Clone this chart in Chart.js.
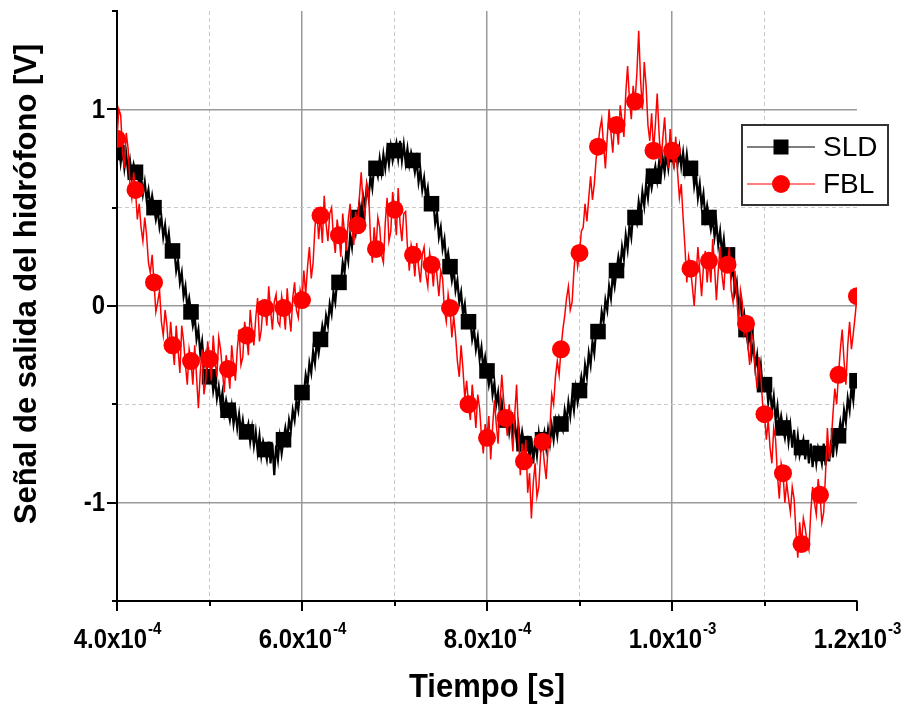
<!DOCTYPE html>
<html>
<head>
<meta charset="utf-8">
<title>Señal de salida del hidrófono</title>
<script src="https://cdn.jsdelivr.net/npm/chart.js@4.4.1/dist/chart.umd.min.js"></script>
<style>
  html, body { margin: 0; padding: 0; background: #fff; }
  #wrap { width: 911px; height: 708px; }
</style>
</head>
<body>
<div id="wrap"><canvas id="grafica" width="911" height="708"></canvas></div>
<script>
// muestreo de la señal: 2 us entre muestras, un símbolo cada 10 muestras (20 us)
const tInicio = 4.0e-4;
const tPaso = 2.0e-6;
const cadaSimbolo = 10;

// SLD [V], una fila por cada intervalo de 20 us
const senalSLD = [
  0.78, 0.83, 0.73, 0.80, 0.70, 0.77, 0.68, 0.74, 0.66, 0.72,
  0.68, 0.70, 0.61, 0.66, 0.57, 0.63, 0.54, 0.59, 0.50, 0.56,
  0.50, 0.44, 0.49, 0.40, 0.45, 0.35, 0.41, 0.31, 0.37, 0.27,
  0.28, 0.29, 0.18, 0.23, 0.12, 0.17, 0.05, 0.10, -0.01, 0.04,
  -0.03, -0.10, -0.05, -0.17, -0.12, -0.24, -0.18, -0.30, -0.25, -0.37,
  -0.36, -0.33, -0.43, -0.37, -0.47, -0.41, -0.50, -0.44, -0.54, -0.48,
  -0.53, -0.58, -0.51, -0.60, -0.53, -0.62, -0.55, -0.64, -0.58, -0.66,
  -0.64, -0.60, -0.69, -0.62, -0.71, -0.64, -0.74, -0.66, -0.76, -0.69,
  -0.73, -0.78, -0.69, -0.80, -0.70, -0.86, -0.71, -0.78, -0.67, -0.75,
  -0.68, -0.62, -0.68, -0.58, -0.63, -0.53, -0.58, -0.48, -0.53, -0.43,
  -0.44, -0.45, -0.35, -0.40, -0.29, -0.34, -0.23, -0.29, -0.18, -0.24,
  -0.17, -0.10, -0.15, -0.05, -0.10, 0.01, -0.04, 0.07, 0.02, 0.13,
  0.12, 0.11, 0.22, 0.17, 0.29, 0.23, 0.36, 0.30, 0.42, 0.37,
  0.45, 0.52, 0.46, 0.56, 0.50, 0.61, 0.55, 0.66, 0.60, 0.71,
  0.70, 0.66, 0.75, 0.68, 0.77, 0.70, 0.79, 0.72, 0.81, 0.74,
  0.79, 0.83, 0.75, 0.84, 0.74, 0.82, 0.73, 0.80, 0.72, 0.78,
  0.74, 0.68, 0.74, 0.63, 0.69, 0.59, 0.65, 0.55, 0.60, 0.50,
  0.52, 0.53, 0.42, 0.47, 0.35, 0.40, 0.29, 0.34, 0.22, 0.27,
  0.20, 0.13, 0.19, 0.08, 0.13, 0.02, 0.07, -0.04, 0.01, -0.10,
  -0.08, -0.07, -0.17, -0.12, -0.22, -0.16, -0.27, -0.21, -0.32, -0.26,
  -0.33, -0.40, -0.34, -0.45, -0.39, -0.50, -0.44, -0.55, -0.49, -0.60,
  -0.58, -0.55, -0.64, -0.57, -0.66, -0.59, -0.68, -0.61, -0.71, -0.64,
  -0.70, -0.75, -0.66, -0.78, -0.67, -0.80, -0.68, -0.76, -0.65, -0.73,
  -0.68, -0.64, -0.72, -0.63, -0.70, -0.61, -0.68, -0.59, -0.66, -0.57,
  -0.60, -0.63, -0.53, -0.59, -0.49, -0.56, -0.46, -0.53, -0.42, -0.49,
  -0.43, -0.36, -0.42, -0.30, -0.36, -0.24, -0.30, -0.18, -0.24, -0.12,
  -0.13, -0.14, -0.03, -0.08, 0.03, -0.02, 0.10, 0.04, 0.16, 0.10,
  0.18, 0.25, 0.19, 0.30, 0.24, 0.36, 0.29, 0.41, 0.35, 0.47,
  0.45, 0.42, 0.53, 0.47, 0.58, 0.51, 0.62, 0.55, 0.66, 0.60,
  0.66, 0.71, 0.64, 0.73, 0.66, 0.75, 0.68, 0.77, 0.70, 0.79,
  0.77, 0.72, 0.81, 0.72, 0.80, 0.71, 0.78, 0.69, 0.77, 0.68,
  0.70, 0.72, 0.61, 0.67, 0.55, 0.62, 0.51, 0.57, 0.45, 0.51,
  0.45, 0.39, 0.45, 0.35, 0.42, 0.31, 0.38, 0.27, 0.34, 0.23,
  0.26, 0.27, 0.15, 0.19, 0.07, 0.12, -0.01, 0.04, -0.09, -0.04,
  -0.12, -0.19, -0.13, -0.25, -0.19, -0.31, -0.25, -0.37, -0.30, -0.42,
  -0.40, -0.38, -0.49, -0.42, -0.53, -0.46, -0.58, -0.51, -0.62, -0.56,
  -0.62, -0.67, -0.59, -0.69, -0.61, -0.72, -0.63, -0.74, -0.66, -0.76,
  -0.72, -0.68, -0.78, -0.69, -0.80, -0.70, -0.82, -0.71, -0.80, -0.72,
  -0.75, -0.80, -0.70, -0.81, -0.69, -0.79, -0.68, -0.77, -0.65, -0.73,
  -0.66, -0.59, -0.65, -0.53, -0.59, -0.47, -0.53, -0.41, -0.48, -0.36,
  -0.38
];

// FBL [V]
const senalFBL = [
  0.85, 1.00, 0.97, 0.78, 0.70, 0.88, 0.80, 0.62, 0.55, 0.68,
  0.59, 0.44, 0.52, 0.40, 0.33, 0.45, 0.36, 0.22, 0.17, 0.26,
  0.12, -0.03, 0.02, 0.08, -0.08, -0.15, -0.02, -0.10, -0.24, -0.08,
  -0.20, -0.30, -0.10, -0.22, -0.34, -0.10, -0.18, -0.30, -0.40, -0.22,
  -0.28, -0.40, -0.20, -0.36, -0.52, -0.34, -0.22, -0.45, -0.38, -0.18,
  -0.27, -0.38, -0.15, -0.28, -0.36, -0.16, -0.22, -0.33, -0.44, -0.25,
  -0.32, -0.42, -0.20, -0.30, -0.38, -0.22, -0.12, -0.30, -0.26, -0.08,
  -0.15, -0.25, -0.02, -0.12, -0.20, -0.06, 0.04, -0.18, -0.12, 0.02,
  -0.01, -0.10, 0.10, -0.02, -0.12, 0.02, 0.06, -0.08, -0.10, 0.05,
  -0.01, -0.12, 0.09, -0.04, -0.13, 0.04, 0.12, -0.02, -0.06, 0.08,
  0.03, 0.18, 0.06, 0.20, 0.30, 0.14, 0.22, 0.40, 0.50, 0.34,
  0.46, 0.32, 0.56, 0.42, 0.33, 0.47, 0.50, 0.35, 0.27, 0.44,
  0.36, 0.25, 0.47, 0.37, 0.28, 0.44, 0.52, 0.40, 0.31, 0.48,
  0.41, 0.55, 0.68, 0.52, 0.46, 0.62, 0.58, 0.35, 0.22, 0.40,
  0.29, 0.45, 0.40, 0.26, 0.22, 0.42, 0.55, 0.33, 0.38, 0.58,
  0.49, 0.36, 0.60, 0.42, 0.33, 0.47, 0.48, 0.30, 0.18, 0.31,
  0.26, 0.15, 0.32, 0.20, 0.12, 0.26, 0.30, 0.16, 0.10, 0.27,
  0.21, 0.10, 0.25, 0.15, 0.05, 0.18, 0.14, -0.02, -0.08, 0.06,
  -0.01, -0.16, -0.05, -0.15, -0.28, -0.36, -0.20, -0.32, -0.47, -0.38,
  -0.50, -0.58, -0.40, -0.50, -0.62, -0.45, -0.52, -0.66, -0.75, -0.60,
  -0.67, -0.56, -0.78, -0.62, -0.48, -0.60, -0.70, -0.50, -0.35, -0.48,
  -0.57, -0.66, -0.50, -0.62, -0.74, -0.55, -0.40, -0.64, -0.86, -0.70,
  -0.79, -0.68, -0.95, -0.85, -1.08, -0.90, -0.80, -0.97, -0.92, -0.75,
  -0.69, -0.80, -0.88, -0.72, -0.62, -0.45, -0.50, -0.36, -0.28, -0.35,
  -0.22, -0.12, -0.05, 0.04, 0.10, -0.02, 0.02, 0.18, 0.30, 0.20,
  0.27, 0.38, 0.40, 0.52, 0.43, 0.55, 0.66, 0.54, 0.62, 0.75,
  0.81, 0.90, 0.95, 0.82, 0.70, 0.86, 1.00, 0.88, 0.78, 0.94,
  0.92, 0.82, 1.02, 0.94, 0.86, 1.08, 1.22, 1.05, 0.95, 1.12,
  1.04, 1.18, 1.40, 1.15, 1.00, 1.24, 1.12, 0.92, 0.84, 0.98,
  0.79, 0.92, 1.08, 0.88, 0.72, 0.85, 0.96, 0.80, 0.70, 0.90,
  0.79, 0.70, 0.86, 0.68, 0.55, 0.62, 0.45, 0.30, 0.12, 0.25,
  0.19, 0.10, 0.00, 0.15, 0.30, 0.18, 0.05, 0.20, 0.28, 0.12,
  0.23, 0.12, 0.34, 0.20, 0.03, 0.18, 0.30, 0.16, 0.08, 0.24,
  0.21, 0.30, 0.08, 0.02, 0.18, 0.05, -0.10, 0.08, 0.02, -0.14,
  -0.09, -0.20, -0.30, -0.14, -0.18, -0.32, -0.42, -0.26, -0.36, -0.50,
  -0.55, -0.68, -0.58, -0.72, -0.80, -0.62, -0.68, -0.86, -0.98, -0.80,
  -0.85, -1.00, -0.90, -0.98, -1.05, -0.92, -0.98, -1.15, -1.28, -1.10,
  -1.21, -1.08, -1.13, -1.20, -1.24, -1.05, -0.92, -1.00, -1.06, -0.88,
  -0.96, -1.10, -1.05, -0.85, -0.62, -0.78, -0.70, -0.55, -0.42, -0.50,
  -0.35, -0.22, -0.12, -0.28, -0.40, -0.20, -0.08, -0.22, -0.14, -0.05,
  0.05
];

// ejes
const ticksX = [4e-4, 5e-4, 6e-4, 7e-4, 8e-4, 9e-4, 1.0e-3, 1.1e-3, 1.2e-3];
const mantisasX = ['4.0', '6.0', '8.0', '1.0', '1.2'];
const exponentesX = ['-4', '-4', '-4', '-3', '-3'];
const ticksY = [-1.5, -1, -0.5, 0, 0.5, 1, 1.5];
const etiquetasY = ['-1', '0', '1'];

const nombres = ['SLD', 'FBL'];
const colores = ['#000000', '#ff0000'];

const FUENTE = '"Liberation Sans", Arial, sans-serif';

function aPuntos(senal) {
  return senal.map((v, i) => ({ x: tInicio + i * tPaso, y: v }));
}
function aSimbolos(senal) {
  return aPuntos(senal).filter((p, i) => i % cadaSimbolo === 0);
}

const esMayor = (valor) => Math.abs(Math.round(valor * 1e4) % 2) === 0;

// texto algo estirado en vertical, como la tipografía de Origin
function textoAlto(ctx, texto, x, y, estira) {
  ctx.save();
  ctx.translate(x, y);
  ctx.scale(1, estira);
  ctx.fillText(texto, 0, 0);
  ctx.restore();
}

// marcas, etiquetas, títulos y leyenda al estilo Origin
const decoracion = {
  id: 'decoracion',
  afterDraw(chart) {
    const { ctx, chartArea: a, scales: { x, y } } = chart;
    ctx.save();
    ctx.strokeStyle = '#000';
    ctx.lineWidth = 2;
    ctx.beginPath();
    ticksX.forEach(v => {
      const px = Math.round(x.getPixelForValue(v));
      ctx.moveTo(px, a.bottom);
      ctx.lineTo(px, a.bottom + (esMayor(v) ? 10 : 5));
    });
    ticksY.forEach(v => {
      const py = Math.round(y.getPixelForValue(v));
      ctx.moveTo(a.left, py);
      ctx.lineTo(a.left - (Number.isInteger(v) ? 10 : 5), py);
    });
    ctx.stroke();

    // etiquetas del eje x con exponente
    ctx.fillStyle = '#000';
    ctx.textBaseline = 'alphabetic';
    ctx.textAlign = 'left';
    const mayoresX = ticksX.filter(esMayor);
    mayoresX.forEach((v, i) => {
      const base = mantisasX[i] + 'x10';
      const exp = exponentesX[i];
      ctx.font = 'bold 24px ' + FUENTE;
      const wb = ctx.measureText(base).width;
      ctx.font = 'bold 15px ' + FUENTE;
      const we = ctx.measureText(exp).width;
      const x0 = x.getPixelForValue(v) - (wb + we) / 2;
      ctx.font = 'bold 24px ' + FUENTE;
      textoAlto(ctx, base, x0, 648, 1.12);
      ctx.font = 'bold 15px ' + FUENTE;
      textoAlto(ctx, exp, x0 + wb + 1, 634, 1.12);
    });

    // etiquetas del eje y
    ctx.font = 'bold 24px ' + FUENTE;
    ctx.textAlign = 'right';
    ctx.textBaseline = 'middle';
    etiquetasY.forEach(t => {
      textoAlto(ctx, t, a.left - 12, y.getPixelForValue(Number(t)) + 1, 1.12);
    });

    // títulos
    ctx.font = 'bold 31px ' + FUENTE;
    ctx.textAlign = 'center';
    ctx.textBaseline = 'middle';
    textoAlto(ctx, 'Tiempo [s]', (a.left + a.right) / 2, 688, 1.08);
    ctx.save();
    ctx.translate(27, 284);
    ctx.rotate(-Math.PI / 2);
    ctx.fillText('Señal de salida del hidrófono [V]', 0, 0);
    ctx.restore();

    // leyenda
    const lx = 742, ly = 125, lw = 146, lh = 80;
    ctx.fillStyle = '#fff';
    ctx.fillRect(lx, ly, lw, lh);
    ctx.strokeStyle = '#333';
    ctx.lineWidth = 2;
    ctx.strokeRect(lx, ly, lw, lh);
    nombres.forEach((nombre, i) => {
      const fy = ly + 22 + i * 37;
      ctx.strokeStyle = colores[i];
      ctx.lineWidth = 1.2;
      ctx.beginPath();
      ctx.moveTo(lx + 5, fy);
      ctx.lineTo(lx + 73, fy);
      ctx.stroke();
      ctx.fillStyle = colores[i];
      if (i === 0) {
        ctx.fillRect(lx + 39 - 7.5, fy - 7.5, 15, 15);
      } else {
        ctx.beginPath();
        ctx.arc(lx + 39, fy, 9, 0, Math.PI * 2);
        ctx.fill();
      }
      ctx.fillStyle = '#000';
      ctx.font = '28px ' + FUENTE;
      ctx.textAlign = 'left';
      ctx.textBaseline = 'middle';
      ctx.fillText(nombre, lx + 81, fy + 1);
    });
    ctx.restore();
  }
};

const gridX = {
  color: c => {
    const v = c.tick && c.tick.value;
    if (v === undefined || v === ticksX[0] || v === ticksX[ticksX.length - 1]) return 'rgba(0,0,0,0)';
    return esMayor(v) ? '#9a9a9a' : '#c8c8c8';
  },
  lineWidth: c => (c.tick && esMayor(c.tick.value)) ? 1.5 : 1,
  drawTicks: false
};
const gridY = {
  color: c => {
    const v = c.tick && c.tick.value;
    if (v === undefined || Math.abs(v) === 1.5) return 'rgba(0,0,0,0)';
    return Number.isInteger(v) ? '#9a9a9a' : '#c8c8c8';
  },
  lineWidth: c => (c.tick && Number.isInteger(c.tick.value)) ? 1.5 : 1,
  drawTicks: false
};

new Chart(document.getElementById('grafica'), {
  type: 'scatter',
  data: {
    datasets: [
      {
        label: 'FBL', data: aSimbolos(senalFBL), showLine: false,
        pointStyle: 'circle', pointRadius: 9, pointBackgroundColor: colores[1],
        pointBorderWidth: 0, order: 1
      },
      {
        label: 'FBL', data: aPuntos(senalFBL), showLine: true,
        borderColor: colores[1], borderWidth: 1.5, pointRadius: 0, tension: 0, order: 2
      },
      {
        label: 'SLD', data: aSimbolos(senalSLD), showLine: false,
        pointStyle: 'rect', pointRadius: 11, pointBackgroundColor: colores[0],
        pointBorderWidth: 0, order: 3
      },
      {
        label: 'SLD', data: aPuntos(senalSLD), showLine: true,
        borderColor: colores[0], borderWidth: 2.2, pointRadius: 0, tension: 0, order: 4
      }
    ]
  },
  options: {
    responsive: false,
    animation: false,
    events: [],
    layout: { padding: { left: 0, top: 5, right: 54, bottom: 0 } },
    plugins: { legend: { display: false }, tooltip: { enabled: false } },
    scales: {
      x: {
        type: 'linear', min: 4e-4, max: 1.2e-3,
        afterBuildTicks: s => { s.ticks = ticksX.map(v => ({ value: v })); },
        afterFit: s => { s.height = 107; },
        ticks: { display: false },
        grid: gridX,
        border: {
          display: true, color: '#000', width: 2,
          dash: c => (c.tick && !esMayor(c.tick.value)) ? [4, 3] : []
        }
      },
      y: {
        min: -1.5, max: 1.5,
        afterBuildTicks: s => { s.ticks = ticksY.map(v => ({ value: v })); },
        afterFit: s => { s.width = 117; },
        ticks: { display: false },
        grid: gridY,
        border: {
          display: true, color: '#000', width: 2,
          dash: c => (c.tick && !Number.isInteger(c.tick.value)) ? [4, 3] : []
        }
      }
    }
  },
  plugins: [decoracion]
});
</script>
</body>
</html>
